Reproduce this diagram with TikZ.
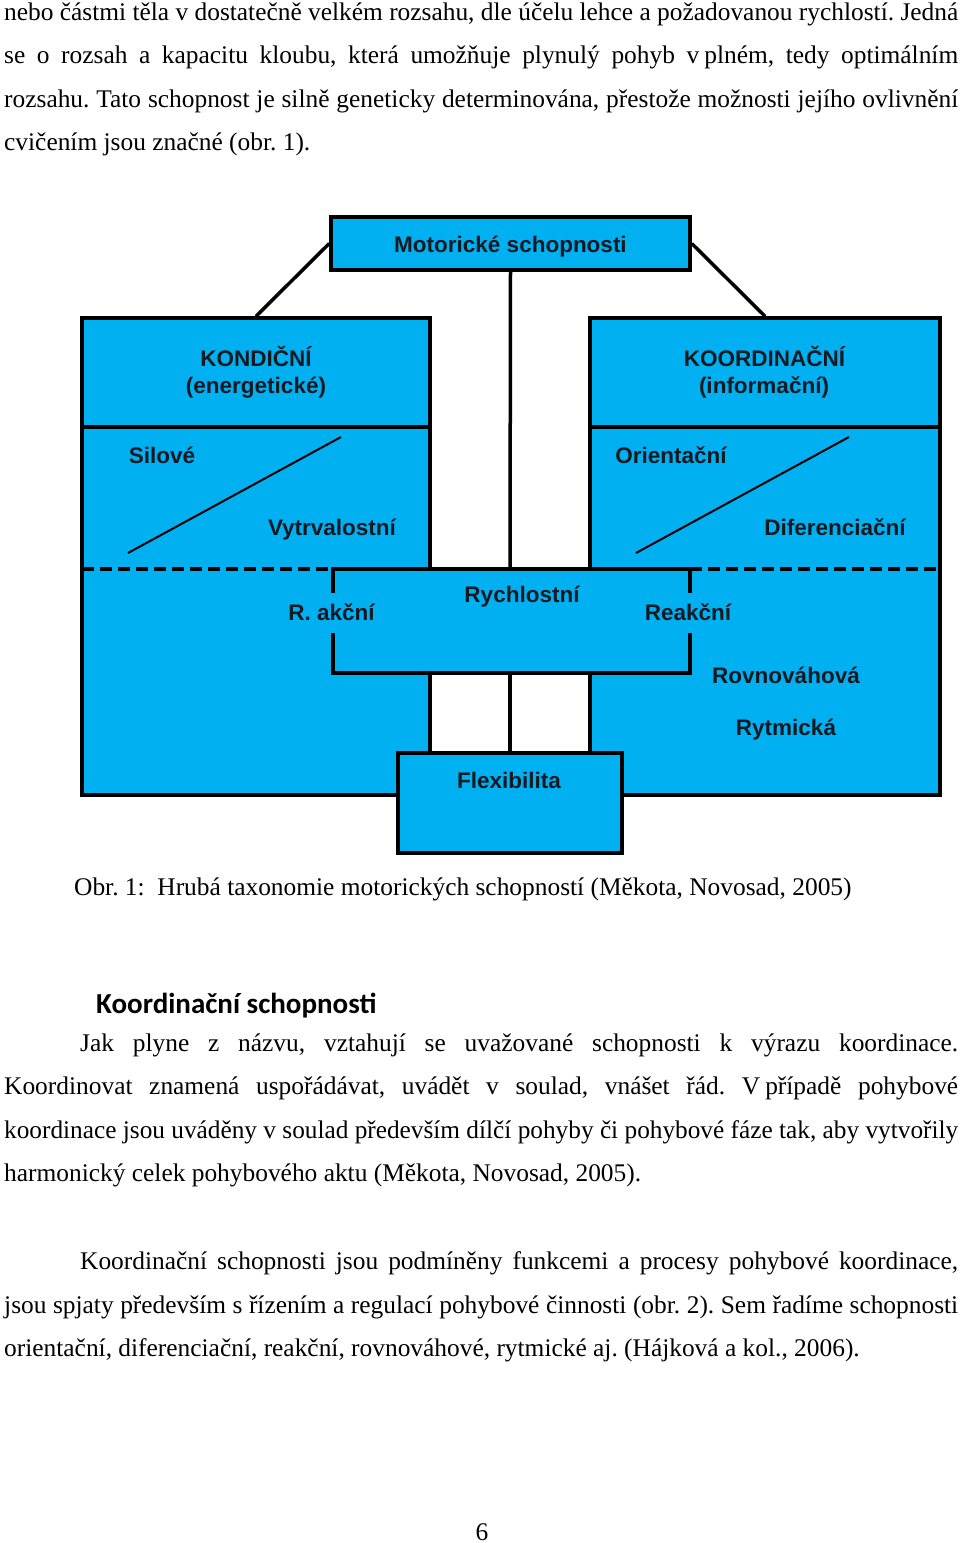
\documentclass[tikz,border=0pt]{standalone}
\usepackage{fontspec}
\usepackage{graphicx}
\setmainfont{Liberation Serif}
\newfontfamily\arialf{Liberation Sans}
\newfontfamily\calibf{Carlito}
\definecolor{boxblue}{HTML}{00B0F0}
\definecolor{lbl}{HTML}{151A22}
\newcommand\jline[2]{\setbox0=\hbox{#2}\ifdim\wd0>#1\relax\resizebox{#1}{\height}{\box0}\else\makebox[#1][s]{#2}\fi}
\tikzset{
  bodytxt/.style={anchor=base west, inner sep=0pt, font=\frenchspacing\fontsize{25.4}{30}\selectfont},
  lab/.style={anchor=base, inner sep=0pt, text=lbl, font=\arialf\bfseries\fontsize{22.5}{26}\selectfont},
  bx/.style={draw=black, fill=boxblue, line width=3.5pt, inner sep=0pt},
  edge/.style={draw=black, line width=3.5pt},
  thin/.style={draw=black, line width=2pt},
  dsh/.style={draw=black, line width=3.5pt, dash pattern=on 12pt off 6pt}
}
\begin{document}
\frenchspacing
\begin{tikzpicture}[x=1pt,y=-1pt]
\useasboundingbox (0,0) rectangle (960,1543);
% ---------- top paragraph ----------
\node[bodytxt] (p1a) at (4,20) {\jline{954pt}{nebo částmi těla v dostatečně velkém rozsahu, dle účelu lehce a požadovanou rychlostí. Jedná}};
\node[bodytxt] (p1b) at (4,63.5) {\jline{954pt}{se o rozsah a kapacitu kloubu, která umožňuje plynulý pohyb v\hspace{0.2em}plném, tedy optimálním}};
\node[bodytxt] (p1c) at (4,107) {\jline{954pt}{rozsahu. Tato schopnost je silně geneticky determinována, přestože možnosti jejího ovlivnění}};
\node[bodytxt] (p1d) at (4,150.5) {cvičením jsou značné (obr. 1).};
% ---------- diagram ----------
% blue fill of the big shape
\fill[boxblue] (82,318) -- (430,318) -- (430,569) -- (590,569) -- (590,318) -- (940,318) -- (940,795) -- (82,795) -- cycle;
\fill[white] (430,673) rectangle (590,753);
% header boxes
\node[bx, minimum width=348pt, minimum height=109pt] (kond) at (256,372.5) {};
\node[bx, minimum width=350pt, minimum height=109pt] (koord) at (765,372.5) {};
\node[bx, minimum width=359pt, minimum height=53pt] (mot) at (510.5,243.5) {};
% outline
\draw[edge, line join=miter] (398,795) -- (82,795) -- (82,318) -- (430,318) -- (430,569) -- (590,569) -- (590,318) -- (940,318) -- (940,795) -- (622,795);
% rychlostni box
\draw[edge] (333,593) -- (333,569) -- (430,569);
\draw[edge] (590,569) -- (690,569) -- (690,593);
\draw[edge] (333,633) -- (333,673) -- (690,673) -- (690,633);
% dashed separators
\draw[dsh] (82,569) -- (333,569);
\draw[dsh] (690,569) -- (940,569);
% white gaps
\draw[edge] (430,673) -- (430,753);
\draw[edge] (590,673) -- (590,753);
% flexibilita
\node[bx, minimum width=224pt, minimum height=100pt] (flex) at (510,803) {};
% connectors
\coordinate (rtop) at (510,569);
\coordinate (rbot) at (510,673);
\draw[edge] (mot.west) -- (kond.north);
\draw[edge] (mot.east) -- (koord.north);
\draw[edge] (mot.south) -- (rtop);
\draw[edge] (rbot) -- (flex.north);
% diagonals
\draw[thin] (128,553) -- (341,437);
\draw[thin] (636,553) -- (849,437);
% labels
\node[lab] (tmot) at (510.5,252) {Motorické schopnosti};
\node[lab] (tk1) at (256,366) {KONDIČNÍ};
\node[lab] (tk2) at (256,393) {(energetické)};
\node[lab] (tc1) at (764.5,366) {KOORDINAČNÍ};
\node[lab] (tc2) at (764,393) {(informační)};
\node[lab] (tsil) at (162,463) {Silové};
\node[lab] (tvyt) at (332,535) {Vytrvalostní};
\node[lab] (tori) at (671,463) {Orientační};
\node[lab] (tdif) at (835,535) {Diferenciační};
\node[lab] (trak) at (331.5,620) {R. akční};
\node[lab] (trych) at (522,602) {Rychlostní};
\node[lab] (treak) at (688,620) {Reakční};
\node[lab] (trov) at (786,683) {Rovnováhová};
\node[lab] (tryt) at (786,735) {Rytmická};
\node[lab] (tflex) at (509,788) {Flexibilita};
% ---------- caption ----------
\node[bodytxt] (cap) at (74,895) {Obr. 1:\ \ Hrubá taxonomie motorických schopností (Měkota, Novosad, 2005)};
% ---------- heading ----------
\node[anchor=base west, inner sep=0pt, font=\calibf\bfseries\fontsize{29}{34}\selectfont] (head) at (96,1013) {Koordinační schopnosti};
% ---------- paragraph 2 ----------
\node[bodytxt] (p2a) at (80,1051) {\jline{878pt}{Jak plyne z názvu, vztahují se uvažované schopnosti k výrazu koordinace.}};
\node[bodytxt] (p2b) at (4,1094.5) {\jline{954pt}{Koordinovat znamená uspořádávat, uvádět v soulad, vnášet řád. V\hspace{0.2em}případě pohybové}};
\node[bodytxt] (p2c) at (4,1138) {\jline{954pt}{koordinace jsou uváděny v soulad především dílčí pohyby či pohybové fáze tak, aby vytvořily}};
\node[bodytxt] (p2d) at (4,1181.5) {harmonický celek pohybového aktu (Měkota, Novosad, 2005).};
% ---------- paragraph 3 ----------
\node[bodytxt] (p3a) at (80,1269.5) {\jline{878pt}{Koordinační schopnosti jsou podmíněny funkcemi a procesy pohybové koordinace,}};
\node[bodytxt] (p3b) at (4,1313) {\jline{954pt}{jsou spjaty především s řízením a regulací pohybové činnosti (obr. 2). Sem řadíme schopnosti}};
\node[bodytxt] (p3c) at (4,1356.5) {orientační, diferenciační, reakční, rovnováhové, rytmické aj. (Hájková a kol., 2006).};
% ---------- page number ----------
\node[bodytxt, anchor=base] (pg) at (482,1540) {6};
\end{tikzpicture}
\end{document}
